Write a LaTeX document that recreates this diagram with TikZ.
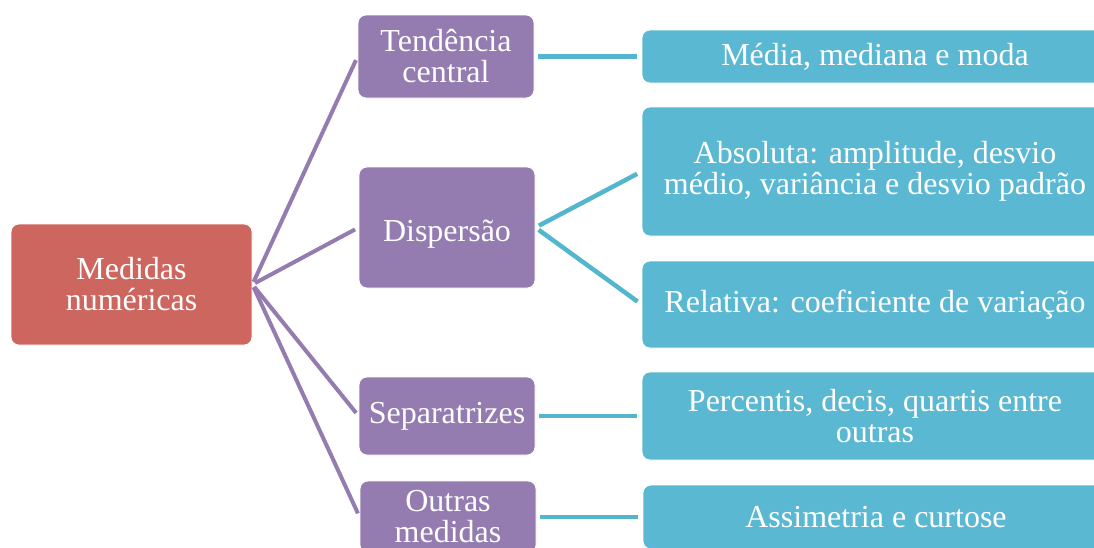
\documentclass[tikz,border=0pt]{standalone}
\usepackage{fontspec}
\setmainfont{Liberation Serif}
\definecolor{rootred}{RGB}{205,102,94}
\definecolor{catpurple}{RGB}{148,124,177}
\definecolor{itemcyan}{RGB}{91,184,210}
\definecolor{linkcyan}{RGB}{84,182,206}
\begin{document}
\begin{tikzpicture}[x=1pt,y=-1pt,
  box/.style={rounded corners=8pt, draw=white, line width=0.8pt, text=white,
    align=center, inner sep=0pt, font=\fontsize{32}{31}\selectfont},
  rootbox/.style={box, fill=rootred, minimum width=241pt, minimum height=121pt},
  catbox/.style={box, fill=catpurple, minimum width=176pt},
  itembox/.style={box, fill=itemcyan, minimum width=466pt},
  catlink/.style={catpurple, line width=4pt, shorten >=4pt, shorten <=3pt},
  itemlink/.style={linkcyan, line width=4.5pt, shorten >=5pt, shorten <=4pt}]
\useasboundingbox (0,0) rectangle (1094,547);
\clip (0,0) rectangle (1094,547);

% root
\node[rootbox] (root) at (131.5,284.5) {Medidas\\num\'ericas};

% categories
\node[catbox, minimum height=83pt] (tend) at (446,56.5) {Tend\^encia\\central};
\node[catbox, minimum height=121pt] (disp) at (447,227.5) {\rule{0pt}{34pt}Dispers\~ao};
\node[catbox, minimum height=78pt] (sep) at (447,416) {Separatrizes};
\node[catbox, minimum height=72pt] (outr) at (448,517) {Outras\\medidas};

% items
\node[itembox, minimum height=53pt] (media) at (875,56.5) {M\'edia, mediana e moda};
\node[itembox, minimum height=129pt] (abs) at (875,171.5) {Absoluta: amplitude, desvio\\m\'edio, vari\^ancia e desvio padr\~ao};
\node[itembox, minimum height=87pt] (rel) at (875,304.5) {Relativa: coeficiente de varia\c{c}\~ao};
\node[itembox, minimum height=88pt] (perc) at (875,416) {Percentis, decis, quartis entre\\outras};
\node[itembox, minimum height=64pt] (assim) at (876,517) {Assimetria e curtose};

% links
\draw[catlink] (root.east) -- (tend.west);
\draw[catlink] (root.east) -- (disp.west);
\draw[catlink] (root.east) -- (sep.west);
\draw[catlink] (root.east) -- (outr.west);

\draw[itemlink] (tend.east) -- (media.west);
\draw[itemlink] (disp.east) -- (abs.west);
\draw[itemlink] (disp.east) -- (rel.west);
\draw[itemlink] (sep.east) -- (perc.west);
\draw[itemlink] (outr.east) -- (assim.west);
\end{tikzpicture}
\end{document}
